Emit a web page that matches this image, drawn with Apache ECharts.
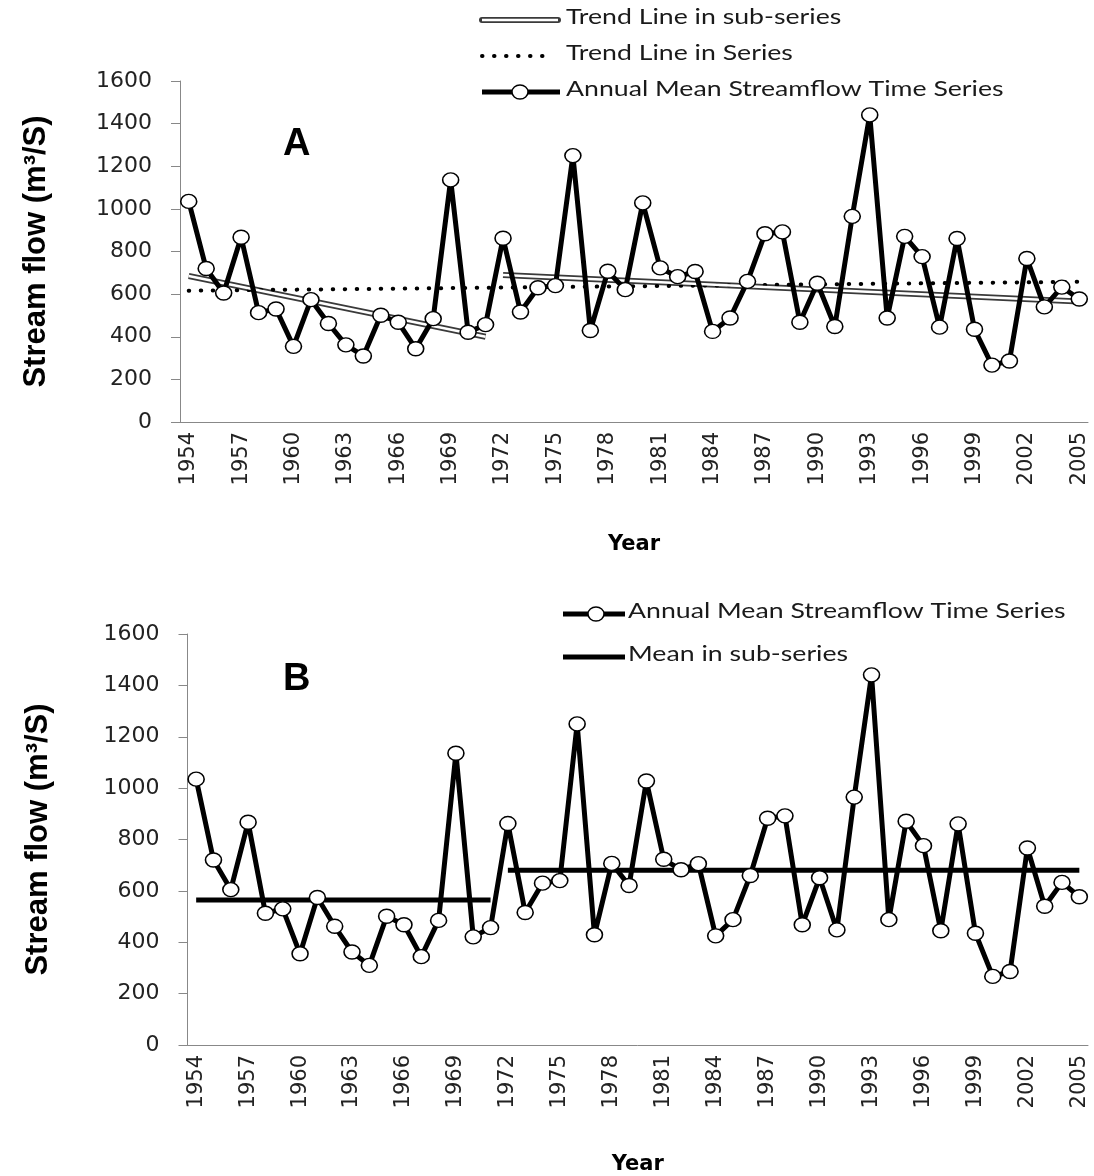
<!DOCTYPE html>
<html>
<head>
<meta charset="utf-8">
<script src="https://cdn.jsdelivr.net/npm/echarts@6/dist/echarts.min.js"></script>
<style>
  html, body { margin: 0; padding: 0; background: #fff; }
  #chart { width: 1094px; height: 1176px; }
</style>
</head>
<body>
<div id="chart"></div>
<script>
// years 1954..2005
const years = []
for (let y = 1954; y <= 2005; y++) years.push(String(y))

// annual mean streamflow (m3/s)
const flow = [1035, 720, 605, 867, 513, 530, 355, 574, 462, 362, 310, 501, 468, 344, 485, 1136, 421, 457,
  862, 516, 630, 640, 1250, 429, 707, 621, 1028, 723, 682, 706, 425, 488, 660, 883, 892, 468, 651, 448,
  965, 1441, 488, 871, 776, 445, 861, 435, 267, 286, 767, 540, 633, 577]

// trend line endpoints
const trendSub1 = [['1954', 685], ['1971', 400]]
const trendSub2 = [['1972', 690], ['2005', 565]]
const trendAll = [['1954', 616], ['2005', 658]]

// sub-series means
const mean1 = [['1954', 564], ['1971', 564]]
const mean2 = [['1972', 680], ['2005', 680]]

const yTicks = { min: 0, max: 1600, interval: 200 }

const chart = echarts.init(document.getElementById('chart'))

const yAxisBase = (gap) => ({
  type: 'value',
  ...yTicks,
  name: 'Stream flow (m³/S)',
  nameLocation: 'middle',
  nameGap: gap,
  nameRotate: 90,
  nameTextStyle: { fontFamily: 'Liberation Sans, Arial', fontWeight: 'bold', fontSize: 31, color: '#000' },
  splitLine: { show: false },
  axisLine: { show: true, lineStyle: { color: '#888', width: 1 } },
  axisTick: { show: true, length: 9, lineStyle: { color: '#888' } },
  axisLabel: { fontFamily: 'DejaVu Sans', fontSize: 22, color: '#222', margin: 28, formatter: (v) => String(v) }
})

const xAxisBase = (gap) => ({
  type: 'category',
  data: years,
  boundaryGap: true,
  name: 'Year',
  nameLocation: 'middle',
  nameGap: gap,
  nameTextStyle: { fontFamily: 'DejaVu Sans', fontWeight: 'bold', fontSize: 21, color: '#000' },
  axisLine: { show: true, lineStyle: { color: '#888', width: 1 } },
  axisTick: { show: false },
  axisLabel: { interval: 2, rotate: 90, fontFamily: 'DejaVu Sans', fontSize: 21, color: '#222', margin: 10 }
})

const mainSeries = (idx) => ({
  type: 'line',
  xAxisIndex: idx,
  yAxisIndex: idx,
  data: flow,
  symbol: 'circle',
  symbolSize: [16, 14],
  showAllSymbol: true,
  lineStyle: { color: '#000', width: 5 },
  itemStyle: { color: '#fff', borderColor: '#000', borderWidth: 1.5 },
  z: 5
})

const seg = (data, idx, style, z) => ({
  type: 'line',
  xAxisIndex: idx,
  yAxisIndex: idx,
  data: data,
  symbol: 'none',
  lineStyle: style,
  z: z
})

// legend text: the reference looks horizontally stretched, so widen the glyphs a bit
const legendFont = { fontFamily: 'Lato', fontSize: 21, fill: '#1a1a1a' }
const legendText = (x, y, t) => ({
  type: 'text', x: x, y: y - 13, scaleX: 1.27,
  style: { text: t, ...legendFont }
})

chart.setOption({
  animation: false,
  backgroundColor: '#fff',
  grid: [
    { left: 180, top: 81, width: 908, height: 341 },
    { left: 187.5, top: 634, width: 900.5, height: 412 }
  ],
  xAxis: [xAxisBase(112), { ...xAxisBase(109), gridIndex: 1 }],
  yAxis: [yAxisBase(128), { ...yAxisBase(134), gridIndex: 1 }],
  series: [
    seg(trendSub1, 0, { color: '#3a3a3a', width: 6 }, 2),
    seg(trendSub1, 0, { color: '#fff', width: 2.5 }, 3),
    seg(trendSub2, 0, { color: '#3a3a3a', width: 6 }, 2),
    seg(trendSub2, 0, { color: '#fff', width: 2.5 }, 3),
    seg(trendAll, 0, { color: '#000', width: 4, type: [0.5, 11.5], cap: 'round' }, 2),
    mainSeries(0),
    seg(mean1, 1, { color: '#000', width: 5 }, 2),
    seg(mean2, 1, { color: '#000', width: 5 }, 2),
    mainSeries(1)
  ],
  graphic: [
    // panel letters
    { type: 'text', left: 283, top: 126, style: { text: 'A', fontFamily: 'Liberation Sans, Arial', fontWeight: 'bold', fontSize: 38, fill: '#000' } },
    { type: 'text', left: 283, top: 661, style: { text: 'B', fontFamily: 'Liberation Sans, Arial', fontWeight: 'bold', fontSize: 38, fill: '#000' } },
    // legend A
    { type: 'line', shape: { x1: 482, y1: 20, x2: 558, y2: 20 }, style: { stroke: '#3a3a3a', lineWidth: 6, lineCap: 'round' } },
    { type: 'line', shape: { x1: 482, y1: 20, x2: 558, y2: 20 }, style: { stroke: '#fff', lineWidth: 2.5 } },
    legendText(566, 20, 'Trend Line in sub-series'),
    { type: 'line', shape: { x1: 482, y1: 56, x2: 552, y2: 56 }, style: { stroke: '#000', lineWidth: 4, lineDash: [0.5, 11.5], lineCap: 'round' } },
    legendText(566, 56, 'Trend Line in Series'),
    { type: 'line', shape: { x1: 482, y1: 92, x2: 560, y2: 92 }, style: { stroke: '#000', lineWidth: 5 } },
    { type: 'ellipse', shape: { cx: 520, cy: 92, rx: 8, ry: 7 }, style: { fill: '#fff', stroke: '#000', lineWidth: 1.5 } },
    legendText(566, 92, 'Annual Mean Streamflow Time Series'),
    // legend B
    { type: 'line', shape: { x1: 563, y1: 614, x2: 625, y2: 614 }, style: { stroke: '#000', lineWidth: 5 } },
    { type: 'ellipse', shape: { cx: 596, cy: 614, rx: 8, ry: 7 }, style: { fill: '#fff', stroke: '#000', lineWidth: 1.5 } },
    legendText(628, 614, 'Annual Mean Streamflow Time Series'),
    { type: 'line', shape: { x1: 563, y1: 657, x2: 625, y2: 657 }, style: { stroke: '#000', lineWidth: 5 } },
    legendText(628, 657, 'Mean in sub-series')
  ]
})

window.addEventListener('resize', () => chart.resize())
</script>
</body>
</html>
